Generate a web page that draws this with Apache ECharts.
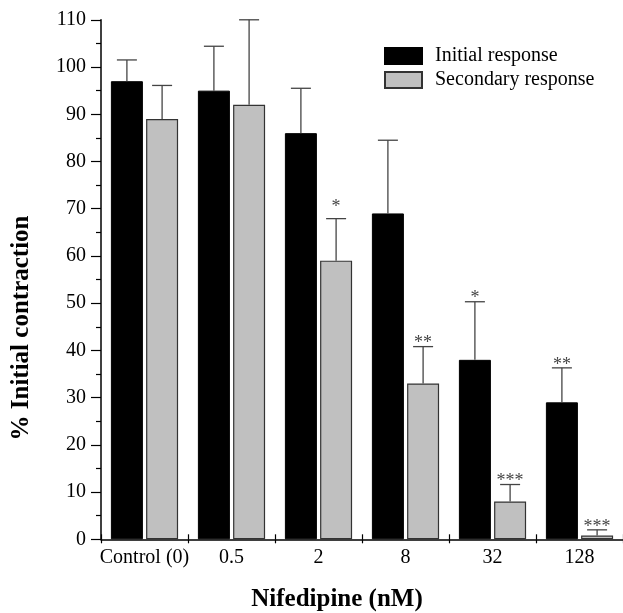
<!DOCTYPE html>
<html>
<head>
<meta charset="utf-8">
<script src="https://cdn.jsdelivr.net/npm/echarts@6/dist/echarts.min.js"></script>
<style>
html,body{margin:0;padding:0;background:#fff;}
#chart{width:623px;height:613px;}
</style>
</head>
<body>
<div id="chart"></div>
<script>
const categories = ['Control (0)', '0.5', '2', '8', '32', '128'];
const initialMean = [97, 95, 86, 69, 38, 29];
const initialErr = [4.5, 9.4, 9.5, 15.5, 12.3, 7.3];
const initialSig = ['', '', '', '', '*', '**'];
const secondaryMean = [89, 92, 59, 33, 8, 0.8];
const secondaryErr = [7.1, 18, 8.9, 7.8, 3.6, 1.2];
const secondarySig = ['', '', '*', '**', '***', '***'];
const yTicks = { min: 0, max: 110, interval: 10 };

const FONT = "'Liberation Serif', 'Times New Roman', serif";
const BAR_W = 32;
const GAP = 3.2;
const OFF = (BAR_W + GAP) / 2;

function errData(mean, err) {
  return mean.map((m, i) => [i, m, m + err[i]]);
}
function errRenderer(offset, sig) {
  return function (params, api) {
    const i = api.value(0);
    const base = api.coord([i, api.value(1)]);
    const top = api.coord([i, api.value(2)]);
    const x = base[0] + offset;
    const style = { stroke: '#444', lineWidth: 1.3 };
    const children = [
      { type: 'line', shape: { x1: x, y1: base[1], x2: x, y2: top[1] }, style: style },
      { type: 'line', shape: { x1: x - 10, y1: top[1], x2: x + 10, y2: top[1] }, style: style }
    ];
    const s = sig[params.dataIndex];
    if (s) {
      children.push({
        type: 'text',
        style: {
          text: s, x: x, y: top[1] + (s.length === 1 && offset > 0 ? -2 : 6),
          align: 'center', verticalAlign: 'bottom',
          font: '18px ' + FONT, fill: '#444'
        }
      });
    }
    return { type: 'group', children: children };
  };
}

const chart = echarts.init(document.getElementById('chart'), null, { renderer: 'canvas' });
chart.setOption({
  animation: false,
  backgroundColor: '#fff',
  textStyle: { fontFamily: FONT },
  grid: { left: 101, right: -6, top: 19.8, bottom: 73.7, containLabel: false },
  legend: {
    orient: 'vertical',
    left: 379, top: 41,
    itemWidth: 37, itemHeight: 16, itemGap: 4,
    icon: 'rect',
    textStyle: { fontFamily: FONT, fontSize: 20, color: '#000', padding: [0, 0, 0, 8] },
    data: ['Initial response', 'Secondary response']
  },
  xAxis: [
    {
      type: 'category', data: categories, position: 'bottom',
      axisLine: { lineStyle: { color: '#000', width: 1.5 } },
      axisTick: { show: true, length: 4, lineStyle: { color: '#000', width: 1.2 } },
      axisLabel: { color: '#000', fontSize: 20, fontFamily: FONT, margin: 8, interval: 0 },
      splitLine: { show: false }
    },
    {
      type: 'category', data: categories, position: 'bottom',
      axisLine: { show: false },
      axisTick: { show: true, inside: true, length: 5, lineStyle: { color: '#000', width: 1.2 } },
      axisLabel: { show: false },
      splitLine: { show: false }
    }
  ],
  yAxis: {
    type: 'value', min: yTicks.min, max: yTicks.max, interval: yTicks.interval,
    axisLine: { show: true, lineStyle: { color: '#000', width: 1.5 } },
    axisTick: { show: true, length: 10, lineStyle: { color: '#000', width: 1.2 } },
    minorTick: { show: true, splitNumber: 2, length: 5, lineStyle: { color: '#000', width: 1.2 } },
    axisLabel: { color: '#000', fontSize: 20, fontFamily: FONT, margin: 15 },
    splitLine: { show: false }
  },
  graphic: [
    {
      type: 'text', x: 22, y: 328, rotation: Math.PI / 2,
      style: { text: '% Initial contraction', align: 'center', verticalAlign: 'middle',
        font: 'bold 25px ' + FONT, fill: '#000' }
    },
    {
      type: 'text', x: 337, y: 600,
      style: { text: 'Nifedipine (nM)', align: 'center', verticalAlign: 'middle',
        font: 'bold 25px ' + FONT, fill: '#000' }
    }
  ],
  series: [
    {
      name: 'Initial response', type: 'bar', data: initialMean,
      barWidth: BAR_W, barGap: '10%',
      itemStyle: { color: '#000', borderColor: '#000', borderWidth: 1 }
    },
    {
      name: 'Secondary response', type: 'bar', data: secondaryMean,
      barWidth: BAR_W, barGap: '10%',
      itemStyle: { color: '#c0c0c0', borderColor: '#333', borderWidth: 1.2 }
    },
    {
      type: 'custom', data: errData(initialMean, initialErr),
      encode: { x: 0, y: [1, 2] }, z: 3,
      renderItem: errRenderer(-OFF, initialSig)
    },
    {
      type: 'custom', data: errData(secondaryMean, secondaryErr),
      encode: { x: 0, y: [1, 2] }, z: 3,
      renderItem: errRenderer(OFF, secondarySig)
    }
  ]
});
</script>
</body>
</html>
